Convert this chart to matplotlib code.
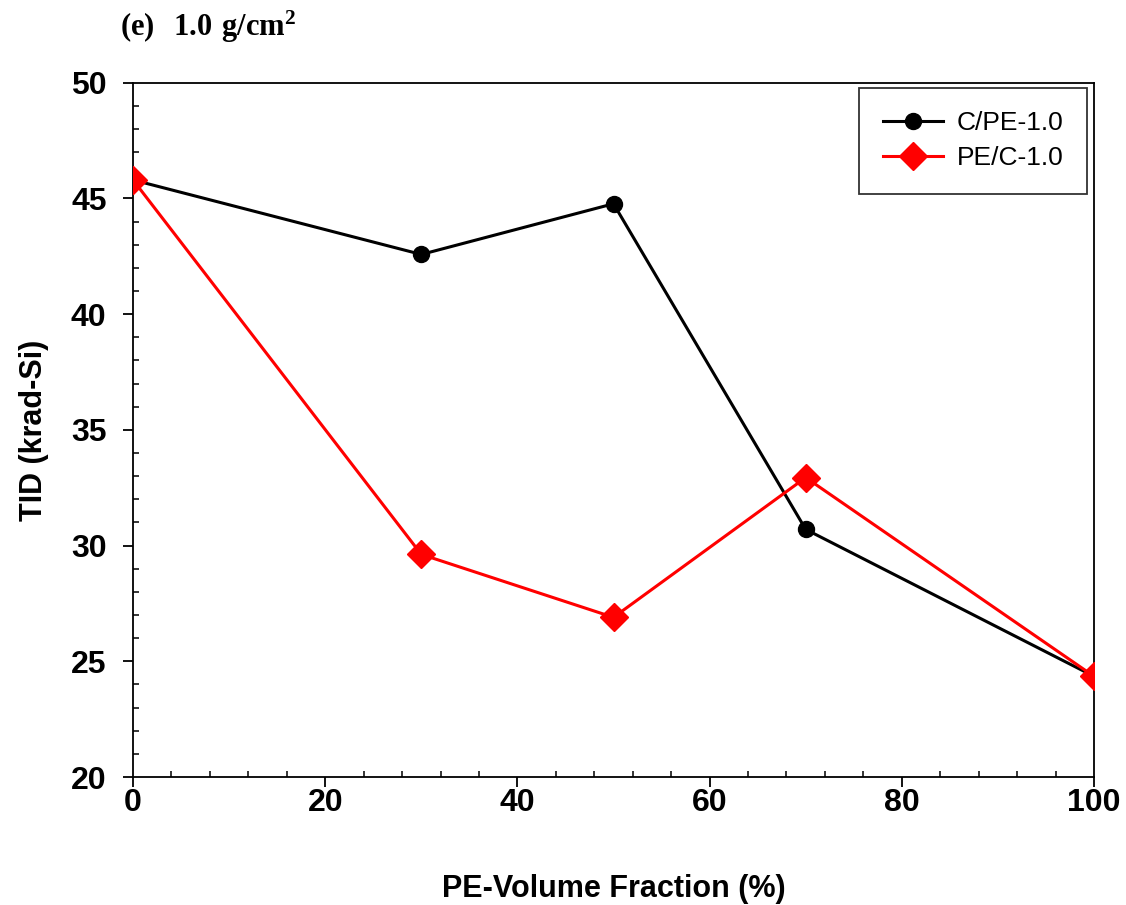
import matplotlib
matplotlib.use('Agg')
import matplotlib.pyplot as plt
from matplotlib.ticker import MultipleLocator

pe_fraction = [0, 30, 50, 70, 100]
tid_c_pe = [45.8, 42.58, 44.77, 30.7, 24.35]
tid_pe_c = [45.8, 29.62, 26.9, 32.94, 24.35]

plt.rcParams['font.family'] = 'Liberation Sans'
plt.rcParams['mathtext.fontset'] = 'custom'
plt.rcParams['mathtext.rm'] = 'Liberation Serif'
plt.rcParams['mathtext.bf'] = 'Liberation Serif:bold'

fig = plt.figure(figsize=(11.26, 9.05), dpi=100)
ax = fig.add_axes([0.1181, 0.1414, 0.8535, 0.7672])

ax.plot(pe_fraction, tid_c_pe, color='black', lw=2.2, marker='o', ms=11.5,
        label='C/PE-1.0', zorder=3)
ax.plot(pe_fraction, tid_pe_c, color='#ff0000', lw=2.2, marker='D', ms=14,
        label='PE/C-1.0', zorder=4)

ax.set_xlim(0, 100)
ax.set_ylim(20, 50)
ax.xaxis.set_major_locator(MultipleLocator(20))
ax.xaxis.set_minor_locator(MultipleLocator(4))
ax.yaxis.set_major_locator(MultipleLocator(5))
ax.yaxis.set_minor_locator(MultipleLocator(1))

for s in ax.spines.values():
    s.set_linewidth(1.3)
ax.tick_params(which='major', direction='out', length=7, width=1.3,
               labelsize=23)
ax.tick_params(axis='y', which='major', pad=12)
ax.tick_params(axis='x', which='major', pad=1)
ax.tick_params(which='minor', direction='in', length=4.5, width=1.1)
for lab in ax.get_xticklabels() + ax.get_yticklabels():
    lab.set_fontweight('bold')

ax.set_xlabel('PE-Volume Fraction (%)', fontsize=22, fontweight='bold',
              labelpad=40)
ax.set_ylabel('TID (krad-Si)', fontsize=22, fontweight='bold', labelpad=16)

leg = ax.legend(loc='upper right', fontsize=19, frameon=True, fancybox=False,
                edgecolor='black', handlelength=2.3, borderpad=0.9,
                labelspacing=0.4, handletextpad=0.5, borderaxespad=0,
                bbox_to_anchor=(0.9927, 0.9928))
leg.get_frame().set_linewidth(1.3)

fig.text(0.107, 0.970, r'$\mathbf{(e)\ \ 1.0\ g/cm^{2}}$', fontsize=22,
         va='center', ha='left')

fig.savefig('out.png', dpi=100)
